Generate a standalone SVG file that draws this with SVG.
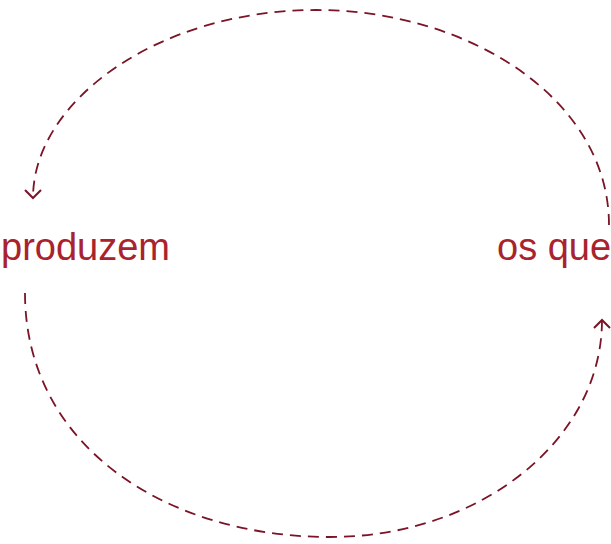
<svg xmlns="http://www.w3.org/2000/svg" width="611" height="544" viewBox="0 0 611 544">
<style>
.arc{fill:none;stroke:#7a1426;stroke-width:1.8;stroke-dasharray:11 7}
.lbl{font-family:"Liberation Sans",Arial,sans-serif;font-size:38px;fill:#a8232e}
</style>
<defs>
<marker id="ah" markerUnits="userSpaceOnUse" markerWidth="20" markerHeight="20" refX="0" refY="0" viewBox="-10 -10 20 20" orient="auto" overflow="visible">
<path d="M -8 -8 L 0 0 L -8 8" fill="none" stroke="#7a1426" stroke-width="2"/>
</marker>
</defs>
<rect width="611" height="544" fill="#ffffff"/>
<g id="connectors">
<path class="arc" d="M 609 225 C 609 100 470 10 316 10 C 160 10 33 100 33 198" marker-end="url(#ah)"/>
<path class="arc" d="M 25 293 C 25 445 165 537 330 537 C 480 537 602 440 602 320" marker-end="url(#ah)"/>
</g>
<g id="node-produzem"><text class="lbl" x="1" y="260">produzem</text></g>
<g id="node-osque"><text class="lbl" x="497" y="260">os que</text></g>
</svg>
